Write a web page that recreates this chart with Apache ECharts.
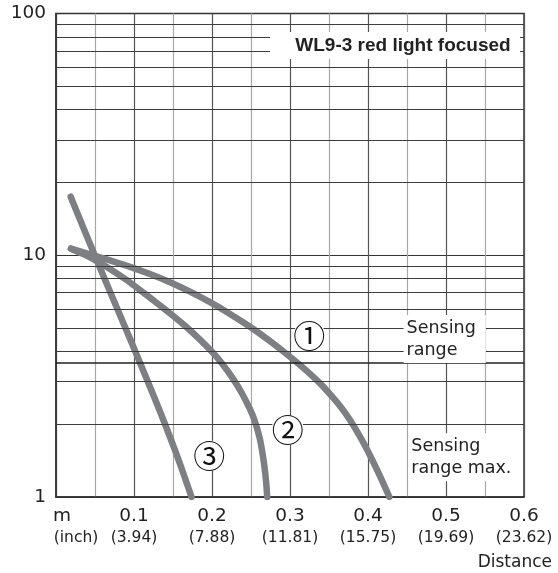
<!DOCTYPE html>
<html>
<head>
<meta charset="utf-8">
<script src="https://cdn.jsdelivr.net/npm/echarts@6/dist/echarts.min.js"></script>
<style>
html,body{margin:0;padding:0;background:#fff;}
#chart{width:558px;height:573px;}
</style>
</head>
<body>
<div id="chart"></div>
<script>
// Curve 1 (distance in m, sensing-range reserve)
const distance1 = [0.0192, 0.0436, 0.0692, 0.0949, 0.1205, 0.1462, 0.1718, 0.1974, 0.2231, 0.2487, 0.2744, 0.3, 0.3218, 0.3385, 0.3513, 0.3641, 0.3769, 0.3923, 0.4026, 0.4154, 0.4274];
const range1    = [10.645, 10.09, 9.522, 8.958, 8.364, 7.736, 7.072, 6.394, 5.72, 5.059, 4.414, 3.805, 3.317, 2.951, 2.662, 2.377, 2.082, 1.718, 1.485, 1.22, 1.0];
// Curve 2
const distance2 = [0.0192, 0.0372, 0.05, 0.0692, 0.0885, 0.1, 0.1205, 0.1397, 0.15, 0.1654, 0.1846, 0.2, 0.2128, 0.2269, 0.2385, 0.2487, 0.2544, 0.2608, 0.2645, 0.2673, 0.2694, 0.2708];
const range2    = [10.645, 10.03, 9.55, 8.78, 7.982, 7.497, 6.675, 5.97, 5.623, 5.108, 4.478, 3.987, 3.57, 3.089, 2.68, 2.308, 2.082, 1.771, 1.535, 1.331, 1.153, 1.0];
// Curve 3
const distance3 = [0.0188, 0.031, 0.0442, 0.0576, 0.0738, 0.0874, 0.1009, 0.1142, 0.1274, 0.1402, 0.1524, 0.164, 0.1737];
const range3    = [17.47, 13.99, 11.026, 8.689, 6.53, 5.146, 4.056, 3.197, 2.519, 1.985, 1.565, 1.233, 1.0];

// x tick labels (m) and inch equivalents
const xTicksM    = [0.1, 0.2, 0.3, 0.4, 0.5, 0.6];
const xTicksInch = ['(3.94)', '(7.88)', '(11.81)', '(15.75)', '(19.69)', '(23.62)'];
// minor horizontal grid values on log axis
const minorY = [2, 3, 4, 5, 6, 7, 8, 9, 20, 30, 40, 50, 60, 70, 80, 90];
const sensingLine = 3.6;

// annotations
const curveNames = ['①', '②', '③'];
const curveLabelPos = [[0.3247, 4.63], [0.297, 1.89], [0.1966, 1.48]];
const sensingTexts = ['Sensing\nrange', 'Sensing\nrange max.'];
const sensingPos = [[0.445, 4.5], [0.451, 1.46]];

const toPairs = (xs, ys) => xs.map((x, i) => [x, ys[i]]);
const FONT = 'DejaVu Sans';
const curveStyle = { color: '#7e7f83', width: 6.5, cap: 'round', join: 'round' };

const chart = echarts.init(document.getElementById('chart'));
chart.setOption({
  animation: false,
  grid: { left: 56, right: 34, top: 13.5, bottom: 76, show: true, borderColor: '#333', borderWidth: 1.5, backgroundColor: 'transparent' },
  xAxis: {
    type: 'value', min: 0, max: 0.6, interval: 0.05,
    axisLine: { show: true, lineStyle: { color: '#333', width: 1.5 } },
    axisTick: { show: false },
    splitLine: { show: true, lineStyle: { color: ['#555', '#a8a8a8'], width: 1.2 } },
    axisLabel: {
      margin: 9,
      color: '#222',
      fontFamily: FONT,
      formatter: function (v) {
        const k = Math.round(v * 100);
        if (k === 0) return '{m|m}\n{i|(inch)}';
        if (k % 10 !== 0) return '';
        const idx = xTicksM.findIndex(t => Math.abs(t - v) < 1e-6);
        if (idx < 0) return '';
        return '{a|' + xTicksM[idx] + '}\n{b|' + xTicksInch[idx] + '}';
      },
      rich: {
        a: { fontSize: 18.5, lineHeight: 21, fontFamily: FONT, color: '#222' },
        b: { fontSize: 15.5, lineHeight: 21, fontFamily: FONT, color: '#222' },
        m: { fontSize: 18.5, lineHeight: 21, fontFamily: FONT, color: '#222', padding: [0, 0, 0, 12] },
        i: { fontSize: 15.5, lineHeight: 21, fontFamily: FONT, color: '#222', padding: [0, 0, 0, 40] }
      }
    }
  },
  yAxis: {
    type: 'log', logBase: 10, min: 1, max: 100,
    axisLine: { show: true, lineStyle: { color: '#333', width: 1.5 } },
    axisTick: { show: false },
    splitLine: { show: true, lineStyle: { color: '#333', width: 1.2 } },
    axisLabel: { fontSize: 18.5, fontFamily: FONT, color: '#222', margin: 10 }
  },
  series: [
    {
      type: 'line', data: [[0, 1]], symbol: 'none', lineStyle: { opacity: 0 }, z: 1, silent: true,
      markLine: {
        silent: true, symbol: 'none', animation: false,
        label: { show: false },
        data: minorY.map(v => ({ yAxis: v, lineStyle: { color: '#3d3d3d', width: 1.1, type: 'solid' } }))
          .concat([{ yAxis: sensingLine, lineStyle: { color: '#222', width: 1.5, type: 'solid' } }])
      }
    },
    { type: 'line', data: toPairs(distance1, range1), smooth: 0.3, showSymbol: false, lineStyle: curveStyle, z: 3 },
    { type: 'line', data: toPairs(distance2, range2), smooth: 0.3, showSymbol: false, lineStyle: curveStyle, z: 3 },
    { type: 'line', data: toPairs(distance3, range3), smooth: 0.3, showSymbol: false, lineStyle: curveStyle, z: 3 },
    {
      type: 'line', data: [[0, 1]], symbol: 'none', lineStyle: { opacity: 0 }, z: 10, silent: true,
      markPoint: {
        silent: true, animation: false,
        symbol: 'circle', symbolSize: 1, itemStyle: { color: 'rgba(0,0,0,0)' },
        data: curveNames.map((n, i) => ({
          coord: curveLabelPos[i],
          label: { show: true, position: 'inside', formatter: n, fontSize: 32, lineHeight: 30, fontFamily: 'Noto Sans CJK JP', color: '#111', backgroundColor: '#fff', borderRadius: 14, padding: 0 }
        })).concat(sensingTexts.map((t, i) => ({
          coord: sensingPos[i],
          label: { show: true, position: 'right', distance: 0, align: 'left', formatter: t, fontSize: 17.5, lineHeight: 22, fontFamily: FONT, color: '#222', backgroundColor: '#fff', padding: [3, 10, 1, 3] }
        })))
      }
    }
  ],
  graphic: [
    { type: 'rect', left: 270, top: 32, shape: { width: 250, height: 27 }, style: { fill: '#fff' }, z: 100 },
    { type: 'text', x: 403, y: 46, z: 101, style: { text: 'WL9-3 red light focused', font: 'bold 19px "Liberation Sans", Arial, sans-serif', fill: '#222', textAlign: 'center', textVerticalAlign: 'middle' } },
    { type: 'text', x: 552, y: 563, z: 101, style: { text: 'Distance', font: '17px "DejaVu Sans", sans-serif', fill: '#222', textAlign: 'right', textVerticalAlign: 'middle' } }
  ]
});
</script>
</body>
</html>
